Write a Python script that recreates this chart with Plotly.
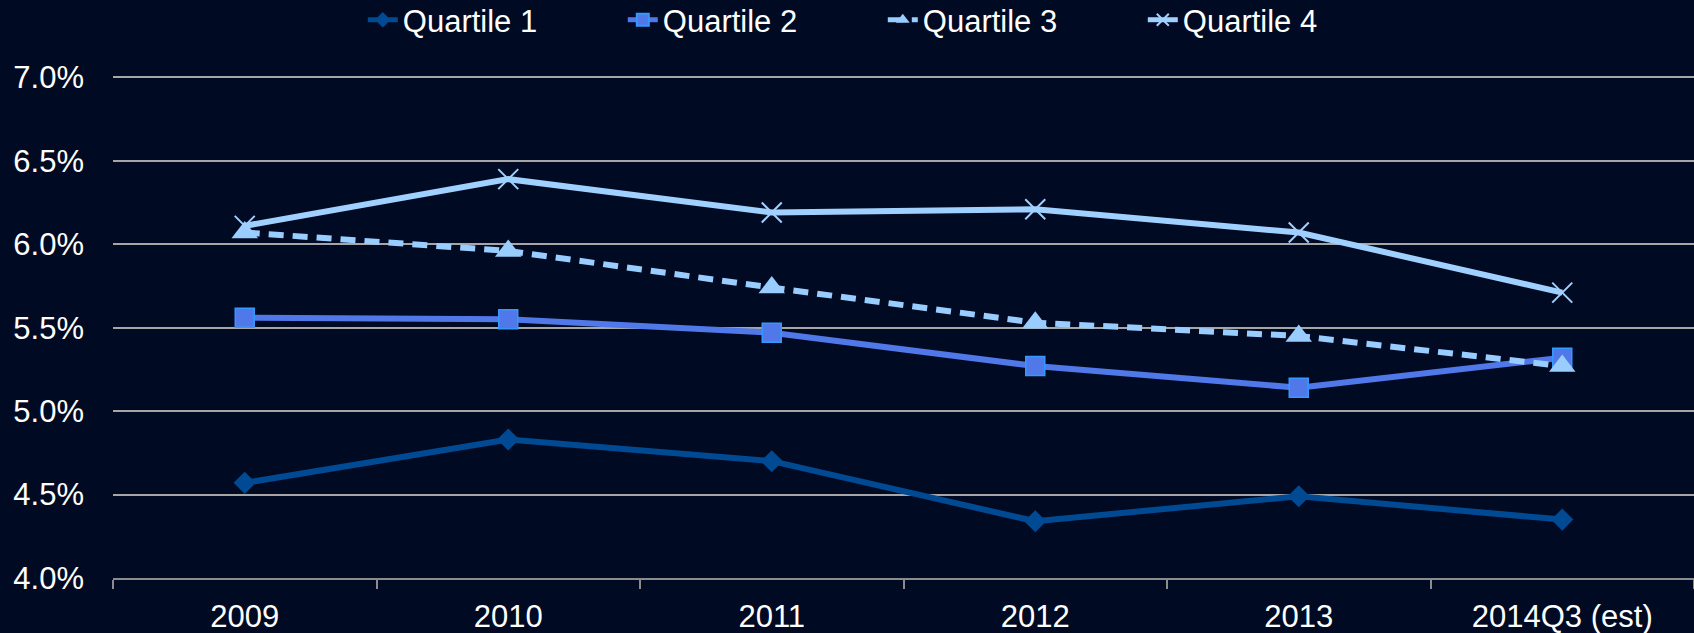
import plotly.graph_objects as go

categories = ["2009", "2010", "2011", "2012", "2013", "2014Q3 (est)"]
q1 = [4.57, 4.83, 4.70, 4.34, 4.49, 4.35]
q2 = [5.56, 5.55, 5.47, 5.27, 5.14, 5.32]
q3 = [6.07, 5.96, 5.74, 5.53, 5.45, 5.27]
q4 = [6.11, 6.39, 6.19, 6.21, 6.07, 5.71]
y_ticks = [4.0, 4.5, 5.0, 5.5, 6.0, 6.5, 7.0]
y_tick_labels = ["4.0%", "4.5%", "5.0%", "5.5%", "6.0%", "6.5%", "7.0%"]

BG = "#000b23"
GRID = "#a6a6a6"
FONT = "Liberation Sans, Arial, sans-serif"

fig = go.Figure()
fig.add_trace(go.Scatter(
    x=categories, y=q1, name="Quartile 1", mode="lines+markers",
    line=dict(color="#004a94", width=6),
    marker=dict(symbol="diamond", size=17, color="#004a94"),
))
fig.add_trace(go.Scatter(
    x=categories, y=q2, name="Quartile 2", mode="lines+markers",
    line=dict(color="#5078e8", width=6),
    marker=dict(symbol="square", size=19, color="#5078e8",
                line=dict(color="#3399ff", width=1.5)),
))
fig.add_trace(go.Scatter(
    x=categories, y=q3, name="Quartile 3", mode="lines+markers",
    line=dict(color="#99ccff", width=6, dash="15px,9px"),
    marker=dict(symbol="triangle-up", size=23, color="#99ccff"),
))
fig.add_trace(go.Scatter(
    x=categories, y=q4, name="Quartile 4", mode="lines+markers",
    line=dict(color="#a0d0ff", width=6),
    marker=dict(symbol="x-thin", size=20, color="#a0d0ff",
                line=dict(color="#a0d0ff", width=2)),
))

fig.update_layout(
    width=1694, height=633,
    paper_bgcolor=BG, plot_bgcolor=BG,
    margin=dict(l=113, r=0, t=74, b=55, autoexpand=False),
    font=dict(family=FONT, size=31, color="#ffffff"),
    showlegend=True,
    legend=dict(
        orientation="h", x=0.158, xanchor="left", y=1.107, yanchor="middle",
        font=dict(family=FONT, size=31, color="#ffffff"),
        bgcolor="rgba(0,0,0,0)", entrywidth=215, entrywidthmode="pixels",
        traceorder="normal", itemsizing="constant",
    ),
    xaxis=dict(
        type="category", showgrid=False, tickson="boundaries",
        ticks="outside", ticklen=9, tickcolor="#8c8c8c", tickwidth=1.5,
        showline=True, linecolor="#8c8c8c", linewidth=2,
        ticklabelstandoff=10,
        tickfont=dict(family=FONT, size=31, color="#ffffff"),
        range=[-0.5, 5.5], fixedrange=True,
    ),
    yaxis=dict(
        range=[4.0, 7.02], tickvals=y_ticks, ticktext=y_tick_labels,
        showgrid=True, gridcolor=GRID, gridwidth=2,
        zeroline=False, showline=False, ticks="",
        ticklabelstandoff=28,
        tickfont=dict(family=FONT, size=31, color="#ffffff"),
        fixedrange=True,
    ),
)

fig.write_html("out.html")
